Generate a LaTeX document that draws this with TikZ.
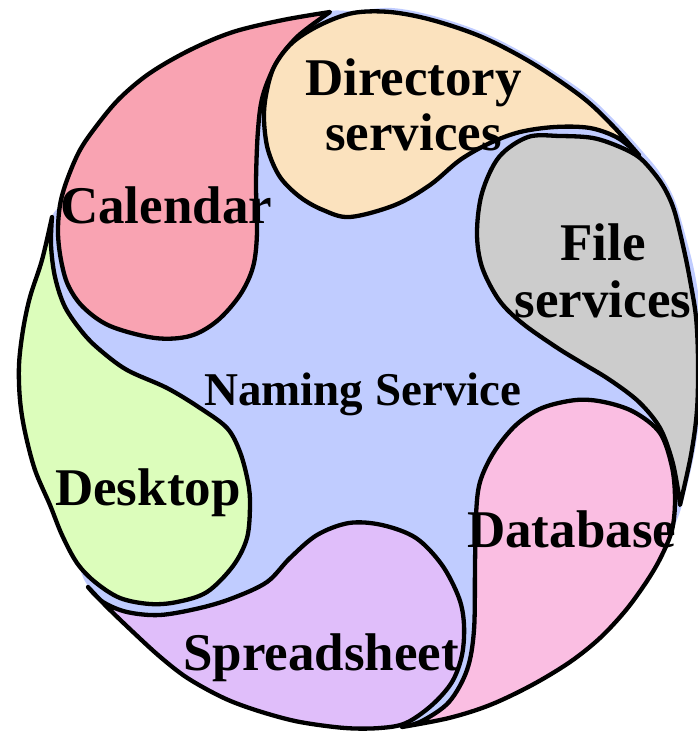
\documentclass[tikz,border=0pt]{standalone}
\usepackage{fontspec}
\setmainfont{Liberation Serif}
\definecolor{namingblue}{RGB}{192,204,255}
\definecolor{calpink}{RGB}{249,163,178}
\definecolor{dirpeach}{RGB}{251,226,190}
\definecolor{filegrey}{RGB}{204,204,204}
\definecolor{dbpink}{RGB}{250,190,226}
\definecolor{sheetlilac}{RGB}{224,190,250}
\definecolor{deskgreen}{RGB}{220,253,187}
\begin{document}
\begin{tikzpicture}[x=1pt,y=-1pt,
  petal/.style={draw=black, line width=4.3pt, line join=round, line cap=round},
  lbl/.style={font=\bfseries\fontsize{53}{55}\selectfont, inner sep=0pt, text=black},
  smallbl/.style={font=\bfseries\fontsize{47}{50}\selectfont, inner sep=0pt, text=black}]
\useasboundingbox (0,0) rectangle (698,731);

% naming service disc behind the petals
\fill[namingblue] plot[smooth cycle, tension=0.55] coordinates {
  (330,11) (353,11) (392,8) (434,16) (484,33) (534,59) (585,93) (615,121)
  (643,152) (660,173) (675,201) (689,249) (696,280) (701,317) (702,360)
  (700,410) (694,455) (682,505) (673,529) (661,553) (648,578) (625,609)
  (599,637) (569,661) (531,684) (489,704) (448,717) (403,727) (350,727)
  (300,721) (265,712) (233,701) (183,674) (133,631) (89,587) (78,563)
  (63,535) (51,505) (36,470) (26,432) (21,400) (20,365) (24,330) (31,297)
  (43,260) (52,217) (60,205) (67,181) (81,151) (99,125) (121,99) (151,74)
  (191,51) (233,33) (283,21)};

% Calendar
\filldraw[petal, fill=calpink] plot[smooth, tension=0.55] coordinates {
  (330,12) (283,20) (233,32) (190,50) (150,73) (120,98) (98,124) (80,150)
  (67,180) (60,205) (58,233) (61,260) (68,285) (83,307) (110,326) (155,338)
  (190,336) (217,321) (240,295) (253,267) (257,233) (256,183) (258,130)
  (263,95) (277,62) (298,36) (330,12)} -- cycle;

% Directory services
\filldraw[petal, fill=dirpeach] plot[smooth, tension=0.55] coordinates {
  (639,155) (612,125) (582,97) (532,63) (482,37) (432,20) (390,12) (353,13)
  (320,25) (292,43) (274,67) (266,95) (264,120) (268,150) (280,177)
  (300,197) (323,210) (350,217) (395,205) (430,185) (460,160) (490,143)
  (520,132) (555,127) (590,128) (618,138) (639,155)} -- cycle;

% File services
\filldraw[petal, fill=filegrey] plot[smooth, tension=0.55] coordinates {
  (680,505) (691,455) (697,410) (698,360) (696,317) (690,280) (684,250)
  (675,213) (667,193) (657,177) (640,158) (620,147) (593,138) (560,136)
  (528,137) (499,157) (482,193) (477,233) (482,267) (499,300) (522,323)
  (556,347) (582,363) (610,380) (639,402) (660,428) (672,460) (678,490)
  (680,505)} -- cycle;

% Database
\filldraw[petal, fill=dbpink] plot[smooth, tension=0.55] coordinates {
  (402,727) (449,718) (490,705) (532,685) (570,662) (600,638) (626,610)
  (647,581) (661,557) (672,530) (675,500) (672,467) (660,433) (634,412)
  (604,402) (576,400) (542,408) (516,425) (494,452) (480,482) (476,515)
  (475,565) (474,630) (467,670) (449,702) (422,721) (402,727)} -- cycle;

% Spreadsheet
\filldraw[petal, fill=sheetlilac] plot[smooth, tension=0.55] coordinates {
  (88,587) (107,607) (133,632) (158,655) (183,675) (208,690) (233,702)
  (265,713) (300,722) (345,728) (380,728) (406,723) (432,705) (452,682)
  (462,655) (464,625) (459,598) (442,565) (416,538) (382,525) (349,523)
  (317,535) (290,558) (267,582) (233,598) (200,608) (160,615) (127,612)
  (103,602) (88,587)} -- cycle;

% Desktop
\filldraw[petal, fill=deskgreen] plot[smooth, tension=0.55] coordinates {
  (52,217) (42,260) (30,297) (23,330) (19,365) (20,400) (25,432) (35,470)
  (50,505) (62,535) (77,563) (95,582) (120,598) (150,604) (177,602)
  (207,592) (233,566) (247,538) (250,505) (248,482) (240,452) (227,428)
  (200,408) (167,388) (127,370) (100,350) (83,333) (65,307) (55,277)
  (51,245) (52,217)} -- cycle;

% labels
\node[lbl, anchor=base west] (calendar) at (60,223) {Calendar};
\node[lbl, anchor=base] (directory) at (413.5,95)
  {\begin{tabular}[t]{@{}c@{}}Directory\\services\end{tabular}};
\node[lbl, anchor=base, font=\bfseries\fontsize{53}{57}\selectfont] (files) at (603,260)
  {\begin{tabular}[t]{@{}c@{}}File\\services\end{tabular}};
\node[smallbl, anchor=base west] (naming) at (204,405) {Naming Service};
\node[lbl, anchor=base west] (desktop) at (55,505) {Desktop};
\node[lbl, anchor=base west] (database) at (467,547) {Database};
\node[lbl, anchor=base west] (spreadsheet) at (183,670) {Spreadsheet};
\end{tikzpicture}
\end{document}
